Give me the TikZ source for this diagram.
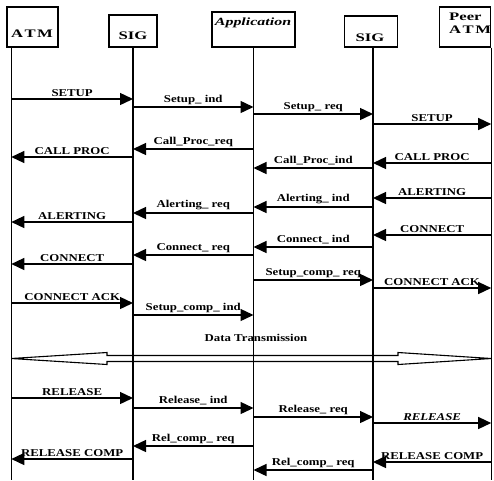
\documentclass[tikz,border=0pt]{standalone}
\usepackage{fontspec}
\setmainfont[FakeStretch=1.22]{Liberation Serif}
\newfontfamily\hdrfont[FakeStretch=1.45]{Liberation Serif}
\usetikzlibrary{arrows.meta}

\begin{document}
\begin{tikzpicture}[x=1pt, y=-1pt,
    hdr/.style={draw, line width=1.4pt, inner sep=0pt},
    hdrtxt/.style={inner sep=0pt, font=\hdrfont\fontsize{11.5}{13}\selectfont\bfseries},
    life/.style={line width=1.4pt},
    msg/.style={line width=1.4pt, -{Triangle[length=13pt,width=12pt]}},
    lbl/.style={above, inner sep=2pt, font=\fontsize{10.5}{12}\selectfont\bfseries}]
  \useasboundingbox (0,0) rectangle (494,480);
  % entity boxes
  \node[hdr, minimum width=51pt, minimum height=40pt] (atm) at (32.5,27) {};
  \node[hdr, minimum width=48pt, minimum height=32pt] (sigA) at (133,31) {};
  \node[hdr, minimum width=83pt, minimum height=35pt] (app) at (253.5,29.5) {};
  \node[hdr, minimum width=53pt, minimum height=31pt] (sigB) at (371,31.5) {};
  \node[hdr, minimum width=51pt, minimum height=40pt] (peer) at (465,27) {};
  \node[hdrtxt] (atmT) at (32,34) {A\kern1.5pt T\kern1.5pt M};
  \node[hdrtxt] (sigAT) at (133,36) {SIG};
  \node[hdrtxt, font=\hdrfont\fontsize{11}{13}\selectfont\bfseries\itshape] (appT) at (253,23) {Application};
  \node[hdrtxt] (sigBT) at (370,38) {SIG};
  \node[hdrtxt, align=left, anchor=north west] (peerT) at (449,13) {Peer\\A\kern1.5pt T\kern1.5pt M};
  % life lines
  \coordinate (atmL) at ([xshift=5pt]atm.south west);
  \coordinate (sigAL) at (sigA.south);
  \coordinate (appL) at (app.south);
  \coordinate (sigBL) at ([xshift=2pt]sigB.south);
  \coordinate (peerL) at (peer.south east);
  \draw[life] (atmL) -- (atmL |- 0,480);
  \draw[life] (sigAL) -- (sigAL |- 0,480);
  \draw[life] (appL) -- (appL |- 0,480);
  \draw[life] (sigBL) -- (sigBL |- 0,480);
  \draw[life] (peerL) -- (peerL |- 0,480);
  % call set-up
  \draw[msg] (atmL |- 0,99) -- node[lbl] {SETUP} (sigAL |- 0,99);
  \draw[msg] (sigAL |- 0,107) -- node[lbl] {Setup\_ ind} (appL |- 0,107);
  \draw[msg] (appL |- 0,114) -- node[lbl] {Setup\_ req} (sigBL |- 0,114);
  \draw[msg] (sigBL |- 0,124) -- node[lbl] {SETUP} (peerL |- 0,124);
  \draw[msg] (appL |- 0,149) -- node[lbl] {Call\_Proc\_req} (sigAL |- 0,149);
  \draw[msg] (sigAL |- 0,157) -- node[lbl] {CALL PROC} (atmL |- 0,157);
  \draw[msg] (peerL |- 0,163) -- node[lbl] {CALL PROC} (sigBL |- 0,163);
  \draw[msg] (sigBL |- 0,168) -- node[lbl] {Call\_Proc\_ind} (appL |- 0,168);
  \draw[msg] (peerL |- 0,198) -- node[lbl] {ALERTING} (sigBL |- 0,198);
  \draw[msg] (sigBL |- 0,207) -- node[lbl] {Alerting\_ ind} (appL |- 0,207);
  \draw[msg] (appL |- 0,213) -- node[lbl] {Alerting\_ req} (sigAL |- 0,213);
  \draw[msg] (sigAL |- 0,222) -- node[lbl] {ALERTING} (atmL |- 0,222);
  \draw[msg] (peerL |- 0,235) -- node[lbl] {CONNECT} (sigBL |- 0,235);
  \draw[msg] (sigBL |- 0,247) -- node[lbl] {Connect\_ ind} (appL |- 0,247);
  \draw[msg] (appL |- 0,255) -- node[lbl] {Connect\_ req} (sigAL |- 0,255);
  \draw[msg] (sigAL |- 0,264) -- node[lbl] {CONNECT} (atmL |- 0,264);
  \draw[msg] (appL |- 0,280) -- node[lbl] {Setup\_comp\_ req} (sigBL |- 0,280);
  \draw[msg] (sigBL |- 0,288) -- node[lbl] {CONNECT ACK} (peerL |- 0,288);
  \draw[msg] (atmL |- 0,303) -- node[lbl] {CONNECT ACK} (sigAL |- 0,303);
  \draw[msg] (sigAL |- 0,315) -- node[lbl] {Setup\_comp\_ ind} (appL |- 0,315);
  % data phase
  \node[lbl, anchor=center, inner sep=0pt] (dataT) at (256,338) {Data Transmission};
  \draw[line width=1.1pt] (atmL |- 0,358.5) -- (107,352.5) -- (107,355.5) -- (398,355.5)
    -- (398,352.5) -- (peerL |- 0,358.5) -- (398,364.5) -- (398,361.5) -- (107,361.5)
    -- (107,364.5) -- cycle;
  % release
  \draw[msg] (atmL |- 0,398) -- node[lbl] {RELEASE} (sigAL |- 0,398);
  \draw[msg] (sigAL |- 0,408) -- node[lbl] {Release\_ ind} (appL |- 0,408);
  \draw[msg] (appL |- 0,417) -- node[lbl] {Release\_ req} (sigBL |- 0,417);
  \draw[msg] (sigBL |- 0,423) -- node[lbl] {\itshape RELEASE} (peerL |- 0,423);
  \draw[msg] (appL |- 0,446) -- node[lbl] {Rel\_comp\_ req} (sigAL |- 0,446);
  \draw[msg] (sigAL |- 0,459) -- node[lbl] {RELEASE COMP} (atmL |- 0,459);
  \draw[msg] (peerL |- 0,462) -- node[lbl] {RELEASE COMP} (sigBL |- 0,462);
  \draw[msg] (sigBL |- 0,470) -- node[lbl] {Rel\_comp\_ req} (appL |- 0,470);
\end{tikzpicture}
\end{document}
